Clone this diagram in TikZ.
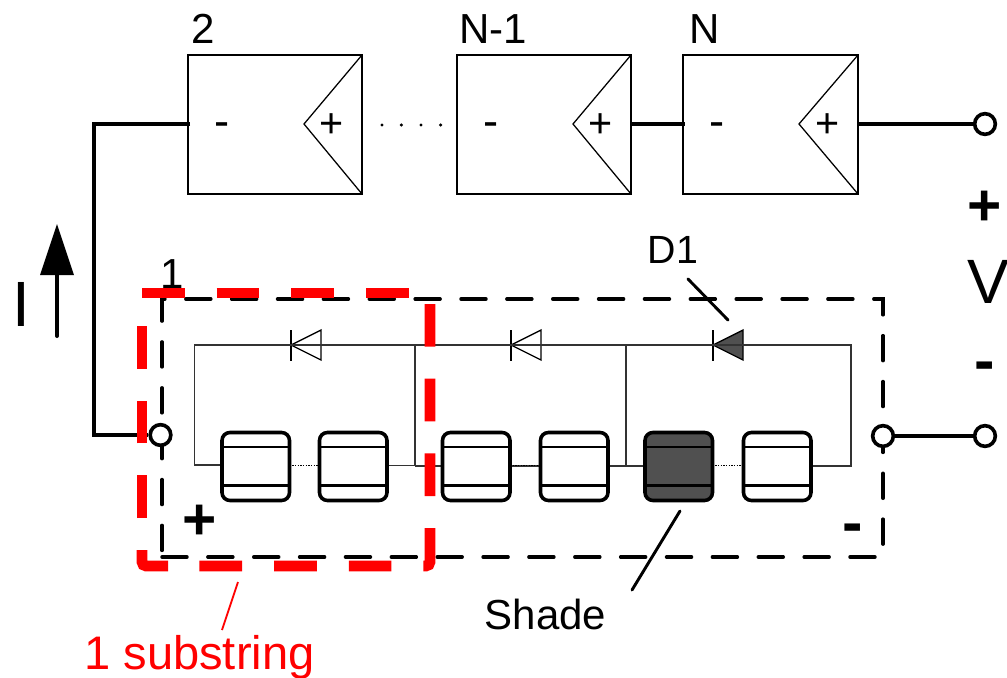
\documentclass[tikz,border=0pt]{standalone}
\usepackage{fontspec}
\setmainfont{Liberation Sans}
\definecolor{shade}{HTML}{505050}
\tikzset{
  x=0.75pt,y=-0.75pt,
  pvbox/.style={draw,line width=0.95pt,line join=miter},
  wire/.style={draw,line width=2.8pt},
  thin wire/.style={draw=black!80,line width=1pt},
  cellbox/.style={draw,line width=2.7pt,rounded corners=6pt},
  term/.style={circle,draw,line width=2.7pt,fill=white,minimum size=15.5pt,inner sep=0pt},
  lab/.style={inner sep=0pt,anchor=base,font=\fontsize{31.5pt}{34pt}\selectfont},
  bigplus/.style={inner sep=0pt,anchor=base,font=\fontsize{44pt}{44pt}\selectfont\bfseries},
  bigminus/.style={inner sep=0pt,anchor=base,font=\fontsize{46pt}{46pt}\selectfont\bfseries},
  smallplus/.style={inner sep=0pt,anchor=base,font=\fontsize{31pt}{31pt}\selectfont},
  smallminus/.style={inner sep=0pt,anchor=base,font=\fontsize{34pt}{34pt}\selectfont},
  leader/.style={draw,line width=2.2pt,line cap=round},
  diode/.style={draw,line width=1pt},
  redbox/.style={red,line width=8pt},
  reddash/.style={redbox,dash pattern=on 32pt off 24pt}
}
\newcommand{\pvmod}[4]{% left, apex, right, name
  \draw[pvbox] (#1,55) rectangle (#3,194);
  \draw[pvbox] (#3,55) -- (#2,124) -- (#3,194);
  \coordinate (#4L) at (#1+2,124);
  \coordinate (#4R) at (#3,124);
  \node[smallminus] at (#1+34,136.5) {-};
  \node[smallplus] at (#3-30.3,137.5) {+};
}
\newcommand{\pvcell}[3]{% left, name, fill
  \draw[cellbox,fill=#3] (#1,432.5) rectangle (#1+67.5,500.5);
  \draw[line width=2pt] (#1,447) -- (#1+67.5,447) (#1,485.5) -- (#1+67.5,485.5);
  \coordinate (#2L) at (#1,465.5);
  \coordinate (#2R) at (#1+67.5,465.5);
}
\newcommand{\pvdiode}[3]{% bar x, fill, name
  \draw[diode,fill=#2] (#1,345) -- (#1+30,330) -- (#1+30,360) -- cycle;
  \draw[line width=1pt] (#1,330) -- (#1,360.5);
  \coordinate (#3) at (#1+15,345);
}
\begin{document}
\begin{tikzpicture}
\useasboundingbox (0,0) rectangle (1007,678);
% modules
\pvmod{188}{304}{362}{mb}
\pvmod{457}{573}{631}{mc}
\pvmod{683}{799}{858}{md}
\node[lab] at (203,43) {2};
\node[lab] at (493,43) {N-1};
\node[lab] at (705,43) {N};
\foreach \px in {382,401.3,421,440.7} \fill (\px,125) circle (1.3pt);
% diodes
\pvdiode{291}{white}{da}
\pvdiode{511}{white}{db}
\pvdiode{713}{shade}{dc}
% substring nets
\draw[thin wire] (222,465) -- (194.5,465) -- (194.5,345) -- (415,345);
\draw[thin wire] (387,465.5) -- (415,465.5);
\draw[thin wire,line width=1.5pt] (415,345) -- (415,466);
\draw[thin wire] (415,345) -- (626,345) (415,466) -- (442,466);
\draw[thin wire] (509,466) -- (540,466);
\draw[thin wire] (607,466) -- (645,466);
\draw[thin wire,line width=1.2pt] (626,345) -- (626,466);
\draw[thin wire] (626,345) -- (851,345) -- (851,466) -- (811,466);
% cells
\pvcell{222}{ca}{white}
\pvcell{319.5}{cb}{white}
\pvcell{442.5}{cc}{white}
\pvcell{540.5}{cd}{white}
\pvcell{645}{ce}{shade}
\pvcell{743.5}{cf}{white}
\draw[line width=1pt,densely dotted] (caR) -- (cbL);
\draw[line width=1pt,densely dotted] (ccR) -- (cdL);
\draw[line width=1pt,densely dotted] (ceR) -- (cfL);
% dashed module outline
\draw[line width=2.6pt,line cap=round,dash pattern=on 18.75pt off 15.65pt] (162,557) -- (883,557) -- (883,299) -- (162,299) -- (162,557);
% terminals and wires
\node[term] (tl) at (160.5,435) {};
\node[term] (tr) at (883,436) {};
\node[term] (vb) at (985,436) {};
\node[term] (vt) at (985,124) {};
\draw[wire] (mbL) -- (94,124) -- (94,435) -- (tl);
\draw[wire] (mcR) -- (mdL);
\draw[wire] (mdR) -- (vt);
\draw[wire] (tr) -- (vb);
% labels
\node[lab] at (172,288) {1};
\node[lab,font=\fontsize{29.5pt}{32pt}\selectfont] at (673,263) {D1};
\node[lab] at (545.5,629) {Shade};
\node[lab,text=red,font=\fontsize{35.3pt}{38pt}\selectfont] at (199.5,669) {1 substring};
\node[bigplus] at (200,539.4) {+};
\node[bigminus] at (853,543) {-};
\node[bigplus] at (985,225) {+};
\node[bigminus] at (985,381) {-};
\node[inner sep=0pt,anchor=base,font=\fontsize{47pt}{47pt}\selectfont] at (988,303) {V};
\node[inner sep=0pt,anchor=base,font=\fontsize{48pt}{48pt}\selectfont] at (21.5,326) {I};
% current arrow
\draw[line width=3pt,line cap=round] (57,336) -- (57,270);
\fill (57,224) -- (74,275) -- (40,275) -- cycle;
% red substring outline
\draw[reddash,rounded corners=3pt] (430,304) -- (430,566) -- (169,566);
\draw[redbox,rounded corners=3pt] (168,566) -- (142,566) -- (142,550);
\draw[reddash] (142,518) -- (142,300);
\draw[reddash] (142,293) -- (430,293);
% leaders
\draw[leader] (688,279) -- (728,320);
\draw[leader] (680,511) -- (632,590);
\draw[red,line width=1.4pt] (238,582) -- (222,630);
\end{tikzpicture}
\end{document}
